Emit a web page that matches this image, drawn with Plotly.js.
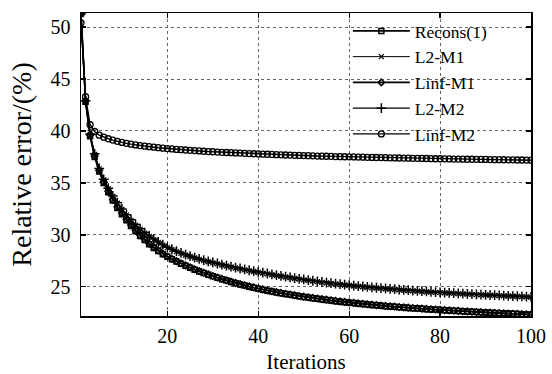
<!DOCTYPE html>
<html>
<head>
<meta charset="utf-8">
<script src="https://cdn.plot.ly/plotly-3.0.1.min.js"></script>
<style>html,body{margin:0;padding:0;background:#fff;}#chart{width:552px;height:374px;}</style>
</head>
<body>
<div id="chart"></div>
<script>
const iterations = [1,2,3,4,5,6,7,8,9,10,11,12,13,14,15,16,17,18,19,20,21,22,23,24,25,26,27,28,29,30,31,32,33,34,35,36,37,38,39,40,41,42,43,44,45,46,47,48,49,50,51,52,53,54,55,56,57,58,59,60,61,62,63,64,65,66,67,68,69,70,71,72,73,74,75,76,77,78,79,80,81,82,83,84,85,86,87,88,89,90,91,92,93,94,95,96,97,98,99,100];

const recons1 = [51.3,42.8,39.5,37.5,36.1,35.0,34.1,33.3,32.6,32.0,31.4,30.85,30.35,29.9,29.5,29.1,28.75,28.45,28.15,27.9,27.66,27.44,27.23,27.03,26.84,26.66,26.49,26.33,26.17,26.02,25.88,25.74,25.61,25.48,25.36,25.24,25.13,25.02,24.92,24.82,24.73,24.64,24.55,24.47,24.39,24.31,24.24,24.17,24.10,24.03,23.97,23.91,23.85,23.79,23.74,23.68,23.63,23.58,23.53,23.48,23.44,23.39,23.35,23.31,23.27,23.23,23.19,23.15,23.12,23.08,23.05,23.01,22.98,22.95,22.92,22.89,22.86,22.83,22.80,22.78,22.75,22.72,22.70,22.67,22.65,22.62,22.60,22.58,22.55,22.53,22.51,22.49,22.47,22.45,22.43,22.41,22.39,22.37,22.35,22.33];

const l2M1 = [51.3,42.85,39.65,37.75,36.35,35.3,34.45,33.7,33.05,32.45,31.9,31.4,30.95,30.55,30.18,29.85,29.55,29.27,29.01,28.78,28.58,28.4,28.23,28.07,27.92,27.78,27.65,27.53,27.42,27.31,27.21,27.11,27.01,26.91,26.82,26.73,26.64,26.56,26.48,26.4,26.33,26.25,26.17,26.09,26.02,25.95,25.88,25.81,25.74,25.68,25.62,25.56,25.5,25.44,25.39,25.33,25.28,25.23,25.18,25.14,25.09,25.05,25.01,24.97,24.93,24.89,24.85,24.82,24.78,24.75,24.72,24.68,24.65,24.62,24.59,24.56,24.53,24.5,24.48,24.45,24.43,24.4,24.38,24.35,24.33,24.31,24.28,24.26,24.24,24.22,24.2,24.18,24.16,24.14,24.12,24.1,24.08,24.06,24.04,24.02];

const linfM1 = [51.2,42.9,39.6,37.6,36.2,35.1,34.2,33.4,32.7,32.1,31.5,30.95,30.45,30.0,29.58,29.18,28.82,28.5,28.2,27.94,27.7,27.48,27.27,27.07,26.88,26.7,26.53,26.36,26.2,26.05,25.91,25.77,25.64,25.51,25.39,25.27,25.16,25.05,24.95,24.85,24.76,24.67,24.58,24.5,24.42,24.34,24.27,24.2,24.13,24.06,24.0,23.94,23.88,23.82,23.77,23.71,23.66,23.61,23.56,23.51,23.46,23.42,23.37,23.33,23.29,23.25,23.21,23.17,23.14,23.1,23.07,23.03,23.0,22.97,22.94,22.91,22.88,22.85,22.82,22.79,22.77,22.74,22.71,22.69,22.66,22.64,22.61,22.59,22.57,22.54,22.52,22.5,22.48,22.46,22.44,22.42,22.4,22.38,22.36,22.34];

const l2M2 = [51.3,42.9,39.7,37.8,36.4,35.35,34.5,33.75,33.1,32.5,31.95,31.45,31.0,30.6,30.23,29.9,29.6,29.32,29.06,28.82,28.62,28.44,28.27,28.11,27.96,27.82,27.69,27.57,27.46,27.35,27.25,27.15,27.05,26.95,26.86,26.77,26.68,26.6,26.52,26.44,26.37,26.29,26.21,26.13,26.06,25.99,25.92,25.85,25.78,25.72,25.65,25.59,25.53,25.47,25.42,25.36,25.31,25.26,25.21,25.17,25.12,25.08,25.04,25.0,24.96,24.92,24.88,24.85,24.81,24.78,24.74,24.71,24.68,24.65,24.62,24.59,24.56,24.53,24.5,24.47,24.45,24.42,24.4,24.37,24.35,24.33,24.3,24.28,24.26,24.24,24.22,24.2,24.18,24.16,24.14,24.12,24.1,24.08,24.06,24.04];

const linfM2 = [50.4,43.3,40.6,39.95,39.6,39.4,39.25,39.12,39.0,38.9,38.81,38.73,38.66,38.6,38.54,38.49,38.44,38.39,38.35,38.31,38.27,38.23,38.2,38.17,38.14,38.11,38.08,38.05,38.02,38.0,37.97,37.95,37.93,37.91,37.89,37.87,37.85,37.83,37.81,37.79,37.77,37.76,37.74,37.72,37.71,37.69,37.68,37.66,37.65,37.63,37.62,37.61,37.59,37.58,37.57,37.56,37.54,37.53,37.52,37.51,37.5,37.49,37.48,37.47,37.46,37.45,37.44,37.43,37.42,37.41,37.4,37.39,37.38,37.37,37.37,37.36,37.35,37.34,37.33,37.33,37.32,37.31,37.3,37.3,37.29,37.28,37.28,37.27,37.26,37.26,37.25,37.24,37.24,37.23,37.22,37.22,37.21,37.21,37.2,37.19];

const seriesNames = ['Recons(1)','L2-M1','Linf-M1','L2-M2','Linf-M2'];
const xTicks = [20,40,60,80,100];
const yTicks = [25,30,35,40,45,50];

const FONT = 'Liberation Serif, Times New Roman, Times, serif';
const BLACK = '#000';

function mk(name, y, symbol, size, lw, mlw) {
  return {
    type: 'scatter', mode: 'lines+markers', name: name,
    x: iterations, y: y,
    line: {color: BLACK, width: lw},
    marker: {symbol: symbol, size: size, color: BLACK, line: {color: BLACK, width: mlw}}
  };
}

const traces = [
  mk(seriesNames[0], recons1, 'square-open', 5, 1.6, 1.5),
  mk(seriesNames[1], l2M1, 'x-thin-open', 5, 1, 1.2),
  mk(seriesNames[2], linfM1, 'diamond-open', 5, 1.6, 1.5),
  mk(seriesNames[3], l2M2, 'cross-thin-open', 7, 1.4, 1.5),
  mk(seriesNames[4], linfM2, 'circle-open', 6, 1.4, 1.3)
];

function axisBase() {
  return {
    showline: true, linecolor: BLACK, linewidth: 1.5, mirror: 'ticks',
    ticks: 'inside', ticklen: 5, tickwidth: 1.2, tickcolor: BLACK,
    showgrid: true, gridcolor: '#666', gridwidth: 1, griddash: 'dot',
    zeroline: false, tickfont: {family: FONT, size: 20, color: BLACK}
  };
}

const layout = {
  width: 552, height: 374,
  margin: {l: 81, r: 21, t: 13, b: 58},
  paper_bgcolor: '#fff', plot_bgcolor: '#fff',
  font: {family: FONT, color: BLACK},
  showlegend: true,
  xaxis: Object.assign(axisBase(), {
    range: [1, 100], tickvals: xTicks, ticktext: xTicks.map(String),
    ticklabelstandoff: 1,
    title: {text: 'Iterations', font: {family: FONT, size: 21, color: BLACK}, standoff: 10}
  }),
  yaxis: Object.assign(axisBase(), {
    range: [22.2, 51.35], tickvals: yTicks, ticktext: yTicks.map(String),
    ticklabelstandoff: 5,
    title: {text: 'Relative error/(%)', font: {family: FONT, size: 28, color: BLACK}, standoff: 10}
  }),
  legend: {
    x: 0.593, xanchor: 'left', y: 1, yanchor: 'top',
    bgcolor: 'rgba(0,0,0,0)', borderwidth: 0, itemwidth: 57,
    tracegroupgap: 0,
    font: {family: FONT, size: 17.5, color: BLACK}
  },
  shapes: [{
    type: 'rect', xref: 'paper', yref: 'paper', layer: 'between',
    x0: 0.587, x1: 1, y0: 0.55, y1: 1,
    fillcolor: '#fff', line: {width: 0}
  }]
};

Plotly.newPlot('chart', traces, layout, {displayModeBar: false, staticPlot: true});
</script>
</body>
</html>
